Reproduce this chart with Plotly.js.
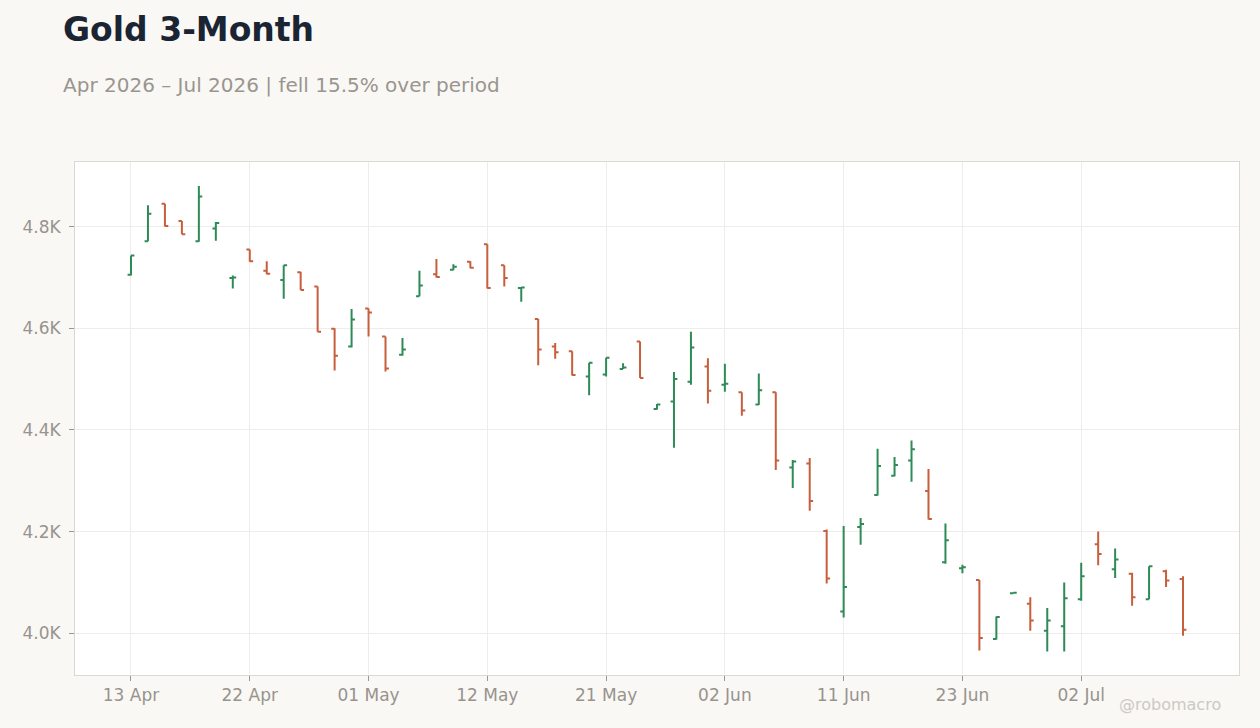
<!DOCTYPE html>
<html>
<head>
<meta charset="utf-8">
<script src="https://cdn.plot.ly/plotly-3.0.1.min.js"></script>
<style>
  html, body { margin: 0; padding: 0; background: #f9f8f5; }
  #chart { width: 1260px; height: 728px; }
</style>
</head>
<body>
<div id="chart"></div>
<script>
// trading days, Apr - Jul 2026
var dates = [
    '2026-04-13', '2026-04-14', '2026-04-15', '2026-04-16', '2026-04-17',
    '2026-04-20', '2026-04-21', '2026-04-22', '2026-04-23', '2026-04-24',
    '2026-04-27', '2026-04-28', '2026-04-29', '2026-04-30', '2026-05-01',
    '2026-05-04', '2026-05-05', '2026-05-06', '2026-05-07', '2026-05-08',
    '2026-05-11', '2026-05-12', '2026-05-13', '2026-05-14', '2026-05-15',
    '2026-05-18', '2026-05-19', '2026-05-20', '2026-05-21', '2026-05-22',
    '2026-05-26', '2026-05-27', '2026-05-28', '2026-05-29', '2026-06-01',
    '2026-06-02', '2026-06-03', '2026-06-04', '2026-06-05', '2026-06-08',
    '2026-06-09', '2026-06-10', '2026-06-11', '2026-06-12', '2026-06-15',
    '2026-06-16', '2026-06-17', '2026-06-18', '2026-06-22', '2026-06-23',
    '2026-06-24', '2026-06-25', '2026-06-26', '2026-06-29', '2026-06-30',
    '2026-07-01', '2026-07-02', '2026-07-06', '2026-07-07', '2026-07-08',
    '2026-07-09', '2026-07-10', '2026-07-13'
];

var openPx = [
    4705, 4771, 4845, 4811, 4771, 4796, 4699, 4755, 4713, 4695,
    4710, 4682, 4599, 4564, 4639, 4584, 4548, 4663, 4706, 4715,
    4731, 4765, 4724, 4679, 4618, 4564, 4555, 4505, 4509, 4520,
    4574, 4441, 4456, 4495, 4525, 4489, 4474, 4450, 4474, 4326,
    4334, 4201, 4043, 4209, 4272, 4310, 4340, 4280, 4140, 4128,
    4105, 3989, 4079, 4058, 4005, 4014, 4067, 4175, 4126, 4117,
    4067, 4122, 4107
];

var highPx = [
    4743, 4842, 4845, 4811, 4880, 4809, 4704, 4755, 4732, 4724,
    4711, 4682, 4600, 4638, 4639, 4584, 4581, 4713, 4736, 4726,
    4732, 4765, 4724, 4680, 4618, 4571, 4555, 4532, 4542, 4531,
    4574, 4451, 4514, 4593, 4541, 4530, 4474, 4511, 4474, 4341,
    4345, 4204, 4211, 4227, 4363, 4347, 4379, 4323, 4216, 4135,
    4105, 4033, 4080, 4071, 4050, 4100, 4139, 4200, 4167, 4119,
    4132, 4125, 4112
];

var lowPx = [
    4704, 4771, 4800, 4785, 4770, 4772, 4678, 4731, 4706, 4658,
    4675, 4593, 4517, 4562, 4584, 4515, 4546, 4663, 4700, 4714,
    4718, 4678, 4682, 4652, 4527, 4540, 4507, 4468, 4505, 4520,
    4502, 4440, 4365, 4489, 4452, 4475, 4428, 4449, 4321, 4286,
    4241, 4098, 4031, 4174, 4271, 4309, 4298, 4224, 4137, 4118,
    3966, 3988, 4078, 4005, 3964, 3964, 4064, 4134, 4109, 4054,
    4067, 4091, 3995
];

var closePx = [
    4743, 4825, 4801, 4785, 4859, 4807, 4700, 4732, 4707, 4724,
    4675, 4593, 4546, 4617, 4631, 4521, 4558, 4684, 4701, 4721,
    4719, 4679, 4699, 4680, 4558, 4553, 4508, 4532, 4542, 4523,
    4502, 4450, 4500, 4562, 4477, 4491, 4438, 4478, 4340, 4338,
    4260, 4108, 4091, 4215, 4329, 4331, 4362, 4225, 4183, 4130,
    3991, 4032, 4080, 4025, 4025, 4069, 4112, 4156, 4145, 4071,
    4132, 4104, 4007
];

// axis labels
var xTickDates = ['2026-04-13', '2026-04-22', '2026-05-01', '2026-05-12', '2026-05-21',
                  '2026-06-02', '2026-06-11', '2026-06-23', '2026-07-02'];
var xTickLabels = ['13 Apr', '22 Apr', '01 May', '12 May', '21 May',
                   '02 Jun', '11 Jun', '23 Jun', '02 Jul'];
var yTicks = [4000, 4200, 4400, 4600, 4800];
var yTickLabels = ['4.0K', '4.2K', '4.4K', '4.6K', '4.8K'];

var font = 'DejaVu Sans, sans-serif';

var trace = {
    type: 'ohlc',
    x: dates,
    open: openPx,
    high: highPx,
    low: lowPx,
    close: closePx,
    tickwidth: 0.2,
    increasing: { line: { color: '#2e8b57', width: 2 } },
    decreasing: { line: { color: '#c75f3d', width: 2 } },
    hoverinfo: 'skip',
    showlegend: false
};

var layout = {
    width: 1260,
    height: 728,
    margin: { l: 75, r: 21, t: 162, b: 53, pad: 0 },
    paper_bgcolor: '#f9f8f5',
    plot_bgcolor: '#ffffff',
    font: { family: font, color: '#98938d', size: 17 },
    title: {
        text: '<b>Gold 3-Month</b>',
        font: { family: font, size: 33, color: '#1b2433' },
        xref: 'container', x: 63 / 1260, xanchor: 'left',
        yref: 'container', y: 1 - 29 / 728, yanchor: 'middle'
    },
    xaxis: {
        type: 'category',
        range: [-3.3, 65.3],
        tickvals: xTickDates,
        ticktext: xTickLabels,
        ticks: 'outside',
        ticklen: 5,
        tickcolor: '#9a958f',
        showgrid: true,
        gridcolor: '#efedea',
        showline: true,
        linecolor: '#dcd7d0',
        linewidth: 1,
        mirror: true,
        zeroline: false,
        rangeslider: { visible: false },
        tickfont: { size: 17, color: '#98938d' }
    },
    yaxis: {
        range: [3918, 4927],
        tickvals: yTicks,
        ticktext: yTickLabels,
        ticks: 'outside',
        ticklen: 5,
        tickcolor: '#9a958f',
        ticklabelstandoff: 5,
        showgrid: true,
        gridcolor: '#efedea',
        showline: true,
        linecolor: '#dcd7d0',
        linewidth: 1,
        mirror: true,
        zeroline: false,
        tickfont: { size: 17, color: '#98938d' }
    },
    annotations: [
        {
            text: 'Apr 2026 \u2013 Jul 2026 | fell 15.5% over period',
            xref: 'paper', yref: 'paper',
            x: (61 - 75) / 1164, y: (675 - 85) / 513,
            xanchor: 'left', yanchor: 'middle',
            showarrow: false,
            font: { family: font, size: 20, color: '#9a958f' }
        },
        {
            text: '@robomacro',
            xref: 'paper', yref: 'paper',
            x: (1223 - 75) / 1164, y: (675 - 705) / 513,
            xanchor: 'right', yanchor: 'middle',
            showarrow: false,
            font: { family: font, size: 16, color: '#cdc9c3' }
        }
    ]
};

Plotly.newPlot('chart', [trace], layout, { displayModeBar: false, staticPlot: true });
</script>
</body>
</html>
